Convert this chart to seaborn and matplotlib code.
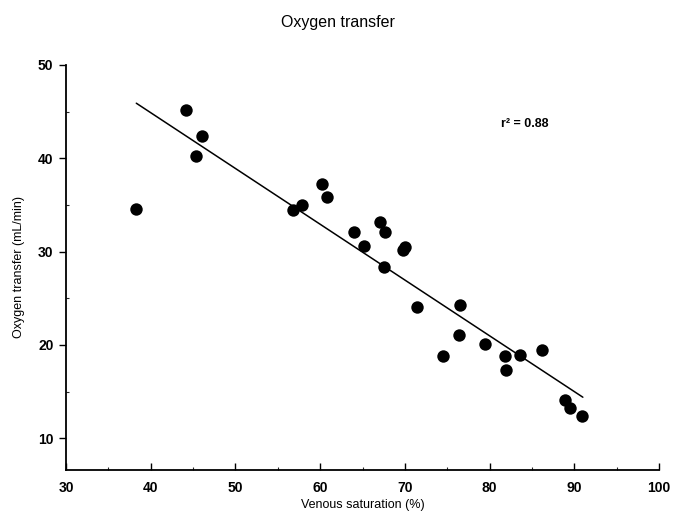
import matplotlib
matplotlib.use("Agg")
import matplotlib.pyplot as plt
import seaborn as sns
import pandas as pd
from matplotlib.ticker import MultipleLocator

venous_sat = [38.3, 44.2, 46.0, 45.3, 56.8, 57.9, 60.2, 60.8, 64.0, 67.1, 67.7, 65.2,
              70.0, 69.8, 67.5, 71.4, 76.5, 76.4, 74.5, 79.5, 81.8, 83.6, 81.9, 86.2,
              88.9, 89.5, 90.9]
oxygen_transfer = [34.6, 45.2, 42.4, 40.2, 34.5, 35.0, 37.2, 35.8, 32.1, 33.2, 32.1, 30.6,
                   30.5, 30.2, 28.4, 24.1, 24.3, 21.1, 18.8, 20.1, 18.8, 18.9, 17.3, 19.5,
                   14.1, 13.2, 12.4]
fit_x = [38.3, 91.0]
fit_y = [45.9, 14.4]
r2_label = "r² = 0.88"

df = pd.DataFrame({"x": venous_sat, "y": oxygen_transfer})
fit = pd.DataFrame({"x": fit_x, "y": fit_y})

sns.set_theme(style="ticks")
plt.rcParams["font.family"] = ["Liberation Sans", "DejaVu Sans"]

fig = plt.figure(figsize=(6.76, 5.22), dpi=100)
ax = fig.add_axes([0.0976, 0.0996, 0.8774, 0.776])

sns.lineplot(data=fit, x="x", y="y", color="black", linewidth=1.1, ax=ax)
sns.scatterplot(data=df, x="x", y="y", color="black", s=80, edgecolor="black", linewidth=0, ax=ax)

ax.set_xlim(30, 100)
ax.set_ylim(6.6, 50)
ax.xaxis.set_major_locator(MultipleLocator(10))
ax.xaxis.set_minor_locator(MultipleLocator(5))
ax.yaxis.set_minor_locator(MultipleLocator(5))
ax.set_yticks([10, 20, 30, 40, 50])
ax.tick_params(axis="x", which="major", direction="in", length=5, width=1, labelsize=10, pad=8, colors="black")
ax.tick_params(axis="x", which="minor", direction="in", length=2.5, width=0.8)
ax.tick_params(axis="y", which="major", direction="out", length=5, width=1, labelsize=10, pad=4, colors="black")
ax.tick_params(axis="y", which="minor", direction="in", length=2.5, width=0.8)
for lab in ax.get_xticklabels() + ax.get_yticklabels():
    lab.set_fontweight("bold")
for sp in ["top", "right"]:
    ax.spines[sp].set_visible(False)
for sp in ["left", "bottom"]:
    ax.spines[sp].set_linewidth(1.3)
    ax.spines[sp].set_color("black")

ax.set_xlabel("Venous saturation (%)", fontsize=9, labelpad=3, color="black")
ax.set_ylabel("Oxygen transfer (mL/min)", fontsize=9, labelpad=9, color="black")
fig.text(0.5, 0.957, "Oxygen transfer", ha="center", va="center", fontsize=11.5, color="black")
ax.text(81.3, 43.7, r2_label, fontsize=9, fontweight="bold", ha="left", va="center", color="black")

fig.savefig("out.png", dpi=100)
